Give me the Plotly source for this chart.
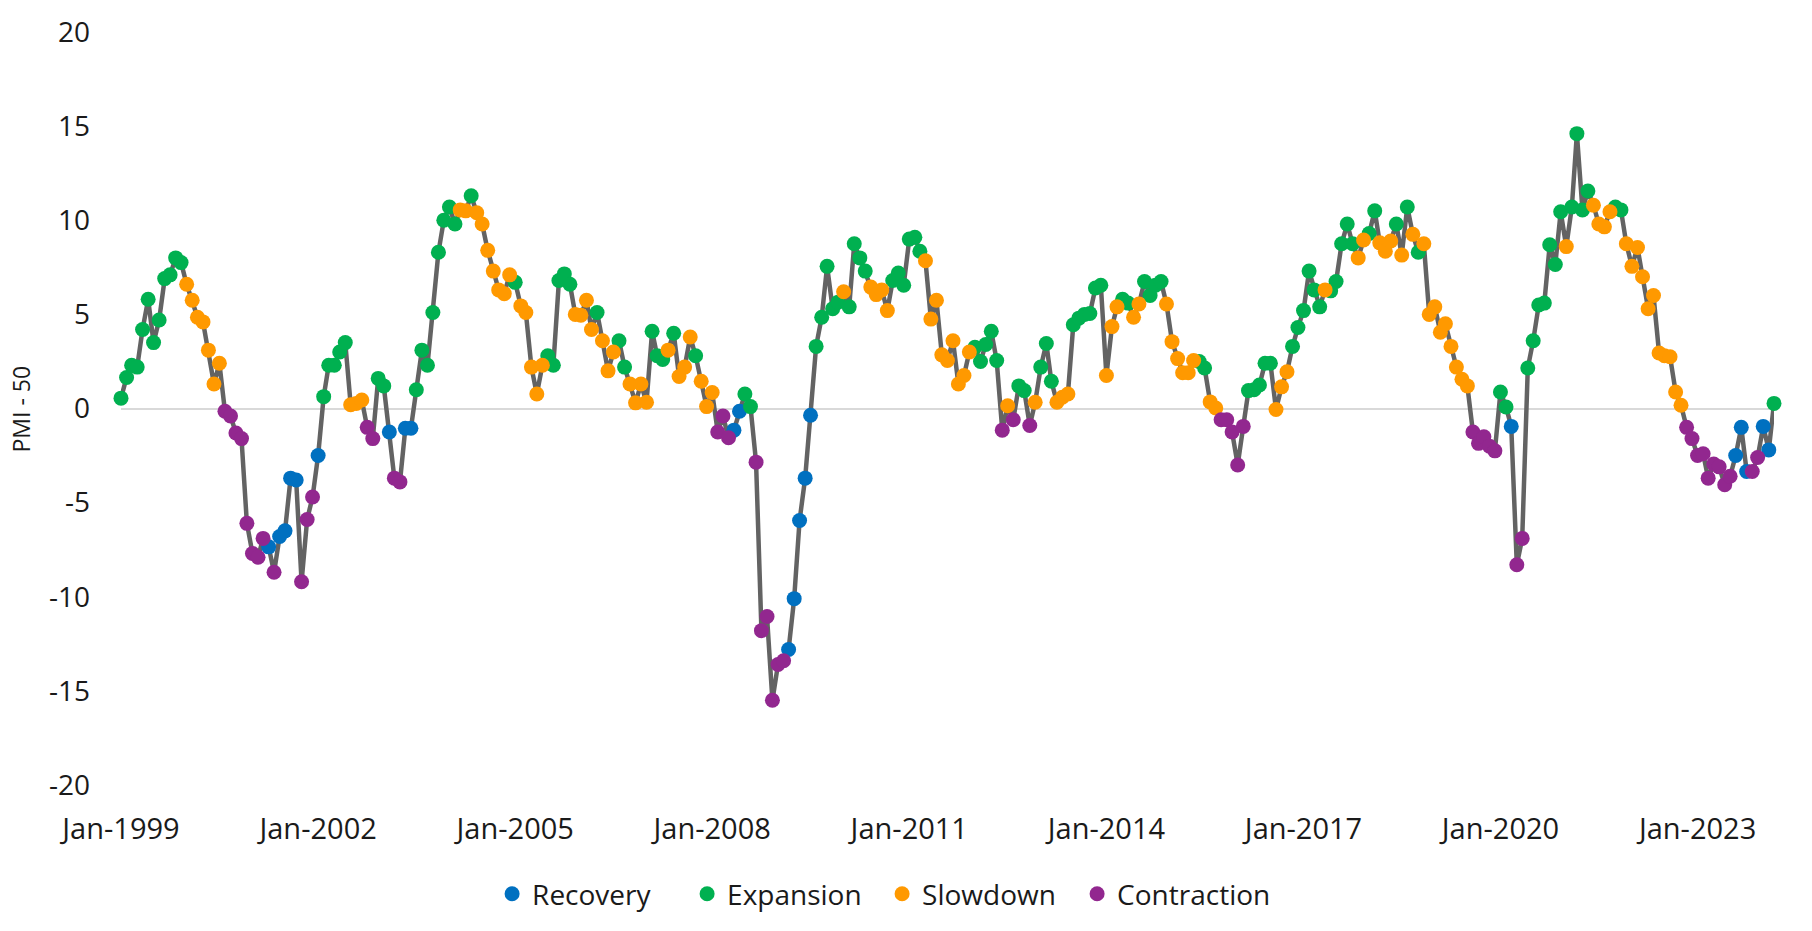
import pandas as pd
import plotly.graph_objects as go

start_month = "1999-01-01"

# PMI minus 50, monthly from Jan-1999
pmi_minus_50 = [
    0.55, 1.65, 2.3, 2.2, 4.2, 5.8, 3.5, 4.7, 6.9, 7.1, 8.0, 7.75,
    6.6, 5.75, 4.85, 4.6, 3.1, 1.3, 2.4, -0.15, -0.4, -1.3, -1.6, -6.1,
    -7.7, -7.9, -6.9, -7.35, -8.7, -6.8, -6.5, -3.7, -3.8, -9.2, -5.9, -4.7,
    -2.5, 0.63, 2.3, 2.3, 3.0, 3.5, 0.2, 0.27, 0.45, -1.0, -1.6, 1.6,
    1.2, -1.25, -3.7, -3.9, -1.05, -1.05, 1.0, 3.1, 2.3, 5.1, 8.3, 10.0,
    10.7, 9.8, 10.55, 10.5, 11.3, 10.4, 9.8, 8.4, 7.3, 6.3, 6.1, 7.1,
    6.7, 5.45, 5.1, 2.2, 0.77, 2.3, 2.8, 2.3, 6.8, 7.15, 6.6, 5.0,
    4.95, 5.75, 4.2, 5.1, 3.6, 2.0, 3.0, 3.6, 2.2, 1.3, 0.3, 1.3,
    0.33, 4.1, 2.8, 2.6, 3.1, 4.0, 1.7, 2.2, 3.8, 2.8, 1.45, 0.1,
    0.85, -1.25, -0.4, -1.55, -1.15, -0.15, 0.77, 0.1, -2.85, -11.8, -11.05, -15.5,
    -13.6, -13.4, -12.8, -10.1, -5.95, -3.7, -0.36, 3.3, 4.85, 7.55, 5.3, 5.65,
    6.2, 5.4, 8.75, 8.0, 7.3, 6.45, 6.05, 6.3, 5.2, 6.8, 7.2, 6.55,
    9.0, 9.1, 8.35, 7.85, 4.75, 5.75, 2.85, 2.55, 3.6, 1.3, 1.75, 3.0,
    3.25, 2.5, 3.4, 4.1, 2.55, -1.15, 0.15, -0.6, 1.2, 0.95, -0.9, 0.33,
    2.2, 3.45, 1.45, 0.33, 0.6, 0.77, 4.45, 4.8, 5.0, 5.05, 6.4, 6.55,
    1.75, 4.35, 5.4, 5.8, 5.6, 4.85, 5.55, 6.75, 6.0, 6.55, 6.75, 5.55,
    3.55, 2.65, 1.9, 1.9, 2.55, 2.5, 2.15, 0.35, 0.03, -0.6, -0.6, -1.25,
    -3.0, -0.95, 0.95, 1.0, 1.25, 2.4, 2.4, -0.05, 1.15, 1.95, 3.3, 4.3,
    5.2, 7.3, 6.3, 5.4, 6.3, 6.25, 6.75, 8.75, 9.8, 8.75, 8.0, 8.95,
    9.3, 10.5, 8.8, 8.35, 8.9, 9.8, 8.15, 10.7, 9.25, 8.3, 8.75, 5.0,
    5.4, 4.05, 4.5, 3.3, 2.2, 1.55, 1.2, -1.25, -1.85, -1.5, -2.0, -2.25,
    0.88, 0.08, -0.95, -8.3, -6.9, 2.15, 3.6, 5.5, 5.6, 8.7, 7.65, 10.45,
    8.6, 10.7, 14.6, 10.55, 11.55, 10.8, 9.8, 9.65, 10.45, 10.7, 10.55, 8.75,
    7.55, 8.55, 7.0, 5.3, 6.0, 2.95, 2.8, 2.75, 0.88, 0.17, -1.0, -1.6,
    -2.5, -2.4, -3.7, -2.95, -3.1, -4.05, -3.6, -2.5, -1.0, -3.35, -3.35, -2.6,
    -0.95, -2.2, 0.27,
]

# Cycle phase per month: R=Recovery, E=Expansion, S=Slowdown, C=Contraction
phase = list(
    "EEEEEEEEEEEE"
    "SSSSSSSCCCCC"
    "CCCRCRRRRCCC"
    "REEEEESSSCCE"
    "ERCCRREEEEEE"
    "EESSESSSSSSS"
    "ESSSSSEEEEES"
    "SSSESSSEESSS"
    "SEEESESSSESS"
    "SCCCRREECCCC"
    "CCRRRRREEEEE"
    "SEEEESSSSEEE"
    "EEESSSSSSSSS"
    "EEEEECSCEECS"
    "EEESSSEEEEEE"
    "SSSEESSEEEES"
    "SSSSSEESSCCC"
    "CCEEEEESSSEE"
    "EEEESEEEEESS"
    "EESSSESESESS"
    "SSSSSSSCCCCC"
    "EERCCEEEEEEE"
    "SEEEESSSSEES"
    "SSSSSSSSSSCC"
    "CCCCCCCRRRCC"
    "RRE"
)

phase_names = ["Recovery", "Expansion", "Slowdown", "Contraction"]
phase_codes = ["R", "E", "S", "C"]
phase_colors = ["#0070C0", "#00B050", "#FF9900", "#92278F"]

y_tick_values = [-20, -15, -10, -5, 0, 5, 10, 15, 20]
y_tick_labels = ["-20", "-15", "-10", "-5", "0", "5", "10", "15", "20"]
x_tick_dates = ["1999-01-01", "2002-01-01", "2005-01-01", "2008-01-01", "2011-01-01",
                "2014-01-01", "2017-01-01", "2020-01-01", "2023-01-01"]
x_tick_labels = ["Jan-1999", "Jan-2002", "Jan-2005", "Jan-2008", "Jan-2011",
                 "Jan-2014", "Jan-2017", "Jan-2020", "Jan-2023"]

dates = pd.date_range(start_month, periods=len(pmi_minus_50), freq="MS")

fig = go.Figure()
fig.add_trace(go.Scatter(
    x=dates, y=pmi_minus_50, mode="lines",
    line=dict(color="#636363", width=4.5),
    showlegend=False, hoverinfo="skip", cliponaxis=False,
))
for name, code, color in zip(phase_names, phase_codes, phase_colors):
    xs = [d for d, p in zip(dates, phase) if p == code]
    ys = [v for v, p in zip(pmi_minus_50, phase) if p == code]
    fig.add_trace(go.Scatter(
        x=xs, y=ys, mode="markers", name=name,
        marker=dict(color=color, size=15, line=dict(width=0)),
        cliponaxis=False,
    ))

fig.update_layout(
    width=1812, height=931,
    margin=dict(l=121, r=38, t=27, b=145),
    paper_bgcolor="white", plot_bgcolor="white",
    font=dict(family="Open Sans", size=28, color="#1a1a1a"),
    showlegend=True,
    legend=dict(orientation="h", x=0.2245, xanchor="left", y=-0.1449, yanchor="middle",
                font=dict(size=28), itemwidth=30, entrywidth=150, entrywidthmode="pixels"),
    annotations=[dict(text="PMI - 50", textangle=-90, xref="paper", yref="paper",
                      x=-0.0605, y=0.5, xanchor="center", yanchor="middle",
                      showarrow=False, font=dict(size=23, color="#1a1a1a"))],
)
fig.update_xaxes(
    range=[dates[0], dates[-1]], showgrid=False, zeroline=False, showline=False,
    tickvals=pd.to_datetime(x_tick_dates), ticktext=x_tick_labels,
    ticks="", ticklabelstandoff=24, tickfont=dict(size=29),
)
fig.update_yaxes(
    range=[-20, 20], showgrid=False, zeroline=True, zerolinecolor="#D9D9D9",
    zerolinewidth=1.5, showline=False, tickvals=y_tick_values, ticktext=y_tick_labels,
    ticks="", ticklabelstandoff=30, tickfont=dict(size=28), ticklabeloverflow="allow",
)

fig.write_html("out.html", config={"displayModeBar": False},
               post_script="document.body.style.margin='0px';")
